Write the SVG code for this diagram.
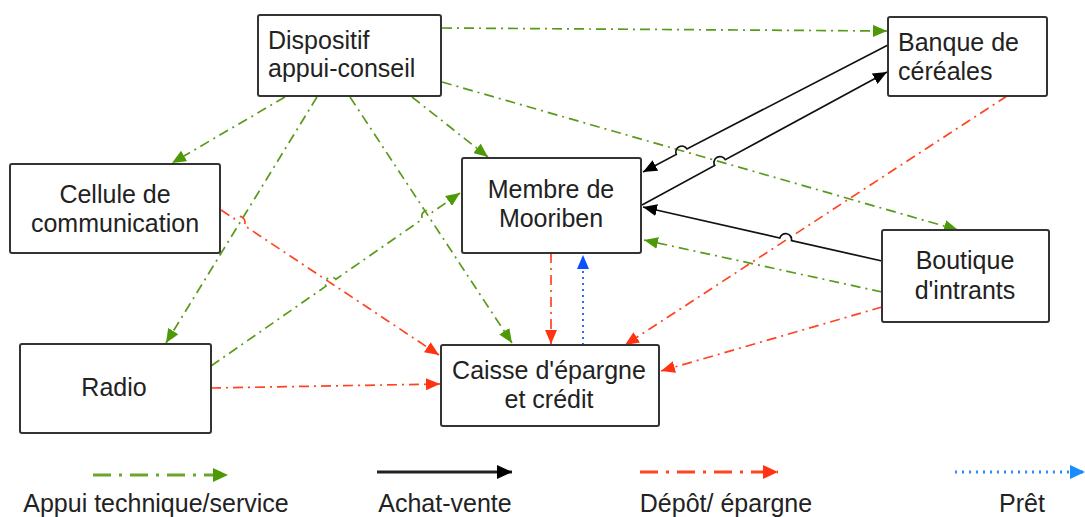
<svg xmlns="http://www.w3.org/2000/svg" width="1085" height="517" viewBox="0 0 1085 517">
<style>
.box{fill:#fff;stroke:#333;stroke-width:2}
.lbl{font-family:"Liberation Sans",Arial,sans-serif;font-size:25px;fill:#222}
.c{text-anchor:middle}
.g{fill:none;stroke:#5a9a1a;stroke-width:1.7;stroke-dasharray:10,5,2,5}
.r{fill:none;stroke:#ff4422;stroke-width:1.7;stroke-dasharray:10,5,2,5}
.k{fill:none;stroke:#111;stroke-width:1.7}
.b{fill:none;stroke:#1a5cff;stroke-width:1.8;stroke-dasharray:2,4}
.gl{fill:none;stroke:#6aa62a;stroke-width:3;stroke-dasharray:18,8,3,8}
.rl{fill:none;stroke:#ff4422;stroke-width:3;stroke-dasharray:18,8,3,8}
.kl{fill:none;stroke:#222;stroke-width:3}
.bl{fill:none;stroke:#2a8cff;stroke-width:3;stroke-dasharray:2,5}
</style>
<defs>
<marker id="ag" markerUnits="userSpaceOnUse" markerWidth="15" markerHeight="12" refX="14" refY="6" orient="auto"><path d="M0,0 L14,6 L0,12 z" fill="#4e9a06"/></marker>
<marker id="ar" markerUnits="userSpaceOnUse" markerWidth="15" markerHeight="12" refX="14" refY="6" orient="auto"><path d="M0,0 L14,6 L0,12 z" fill="#ff3311"/></marker>
<marker id="ak" markerUnits="userSpaceOnUse" markerWidth="15" markerHeight="12" refX="14" refY="6" orient="auto"><path d="M0,0 L14,6 L0,12 z" fill="#000"/></marker>
<marker id="ab" markerUnits="userSpaceOnUse" markerWidth="15" markerHeight="12" refX="14" refY="6" orient="auto"><path d="M0,0 L14,6 L0,12 z" fill="#0a50ff"/></marker>
<marker id="agl" markerUnits="userSpaceOnUse" markerWidth="16" markerHeight="14" refX="15" refY="7" orient="auto"><path d="M0,0 L15,7 L0,14 z" fill="#4e9a06"/></marker>
<marker id="arl" markerUnits="userSpaceOnUse" markerWidth="16" markerHeight="14" refX="15" refY="7" orient="auto"><path d="M0,0 L15,7 L0,14 z" fill="#ff3311"/></marker>
<marker id="akl" markerUnits="userSpaceOnUse" markerWidth="16" markerHeight="14" refX="15" refY="7" orient="auto"><path d="M0,0 L15,7 L0,14 z" fill="#000"/></marker>
<marker id="abl" markerUnits="userSpaceOnUse" markerWidth="16" markerHeight="14" refX="15" refY="7" orient="auto"><path d="M0,0 L15,7 L0,14 z" fill="#1a8cff"/></marker>
</defs>
<g id="connectors">
<path class="g" d="M442,28 L887,31" marker-end="url(#ag)"/>
<path class="g" d="M442,82 L958,230" marker-end="url(#ag)"/>
<path class="g" d="M412,97 L488,157" marker-end="url(#ag)"/>
<path class="g" d="M350,97 L512,343" marker-end="url(#ag)"/>
<path class="g" d="M317,97 L166,343" marker-end="url(#ag)"/>
<path class="g" d="M285,97 L172,163" marker-end="url(#ag)"/>
<path class="g" d="M211,366 L326,286.1 A6,6 0 0 1 335.8,279.3 L422.6,219 A6,6 0 0 1 432.4,212.2 L460,193" marker-end="url(#ag)"/>
<path class="g" d="M882,292 L644,240" marker-end="url(#ag)"/>
<path class="r" d="M221,210 L234.2,218.8 A6,6 0 0 1 244.2,225.4 L439,355" marker-end="url(#ar)"/>
<path class="r" d="M211,388 L440,384" marker-end="url(#ar)"/>
<path class="r" d="M551,253 L551,344" marker-end="url(#ar)"/>
<path class="r" d="M1007,96 L625,345" marker-end="url(#ar)"/>
<path class="r" d="M882,307 L661,371" marker-end="url(#ar)"/>
<path class="b" d="M583,345 L583,255" marker-end="url(#ab)"/>
<path class="k" d="M888,45 L686.9,148.9 A6,6 0 0 0 676.3,154.4 L643,172" marker-end="url(#ak)"/>
<path class="k" d="M642,205 L714.7,165.5 A6,6 0 0 1 725.3,159.7 L887,72" marker-end="url(#ak)"/>
<path class="k" d="M882,261 L791.5,240.6 A6,6 0 0 0 779.8,238 L643,207" marker-end="url(#ak)"/>
<path class="gl" d="M93,475 L228,475" marker-end="url(#agl)"/>
<path class="kl" d="M377,472 L512,472" marker-end="url(#akl)"/>
<path class="rl" d="M640,472 L778,472" marker-end="url(#arl)"/>
<path class="bl" d="M955,472 L1085,472" marker-end="url(#abl)"/>
</g>
<g id="dispositif">
<rect class="box" x="258" y="15" width="183" height="81" rx="2"/>
<text class="lbl" x="268" y="49">Dispositif</text>
<text class="lbl" x="268" y="77">appui-conseil</text>
</g>
<g id="banque">
<rect class="box" x="888" y="17" width="159" height="79" rx="2"/>
<text class="lbl" x="898" y="51">Banque de</text>
<text class="lbl" x="898" y="80">céréales</text>
</g>
<g id="cellule">
<rect class="box" x="10" y="164" width="210" height="89" rx="2"/>
<text class="lbl c" x="115" y="203">Cellule de</text>
<text class="lbl c" x="115" y="232">communication</text>
</g>
<g id="membre">
<rect class="box" x="462" y="158" width="179" height="95" rx="2"/>
<text class="lbl c" x="551" y="198">Membre de</text>
<text class="lbl c" x="551" y="227">Mooriben</text>
</g>
<g id="boutique">
<rect class="box" x="882" y="230" width="167" height="92" rx="2"/>
<text class="lbl c" x="965" y="269">Boutique</text>
<text class="lbl c" x="965" y="299">d'intrants</text>
</g>
<g id="radio">
<rect class="box" x="20" y="344" width="191" height="89" rx="2"/>
<text class="lbl c" x="114" y="396">Radio</text>
</g>
<g id="caisse">
<rect class="box" x="441" y="345" width="218" height="81" rx="2"/>
<text class="lbl c" x="549" y="379">Caisse d'épargne</text>
<text class="lbl c" x="549" y="408">et crédit</text>
</g>
<g id="legend">
<text class="lbl c" x="156" y="512">Appui technique/service</text>
<text class="lbl c" x="445" y="512">Achat-vente</text>
<text class="lbl c" x="726" y="512">Dépôt/ épargne</text>
<text class="lbl c" x="1022" y="512">Prêt</text>
</g>
</svg>
